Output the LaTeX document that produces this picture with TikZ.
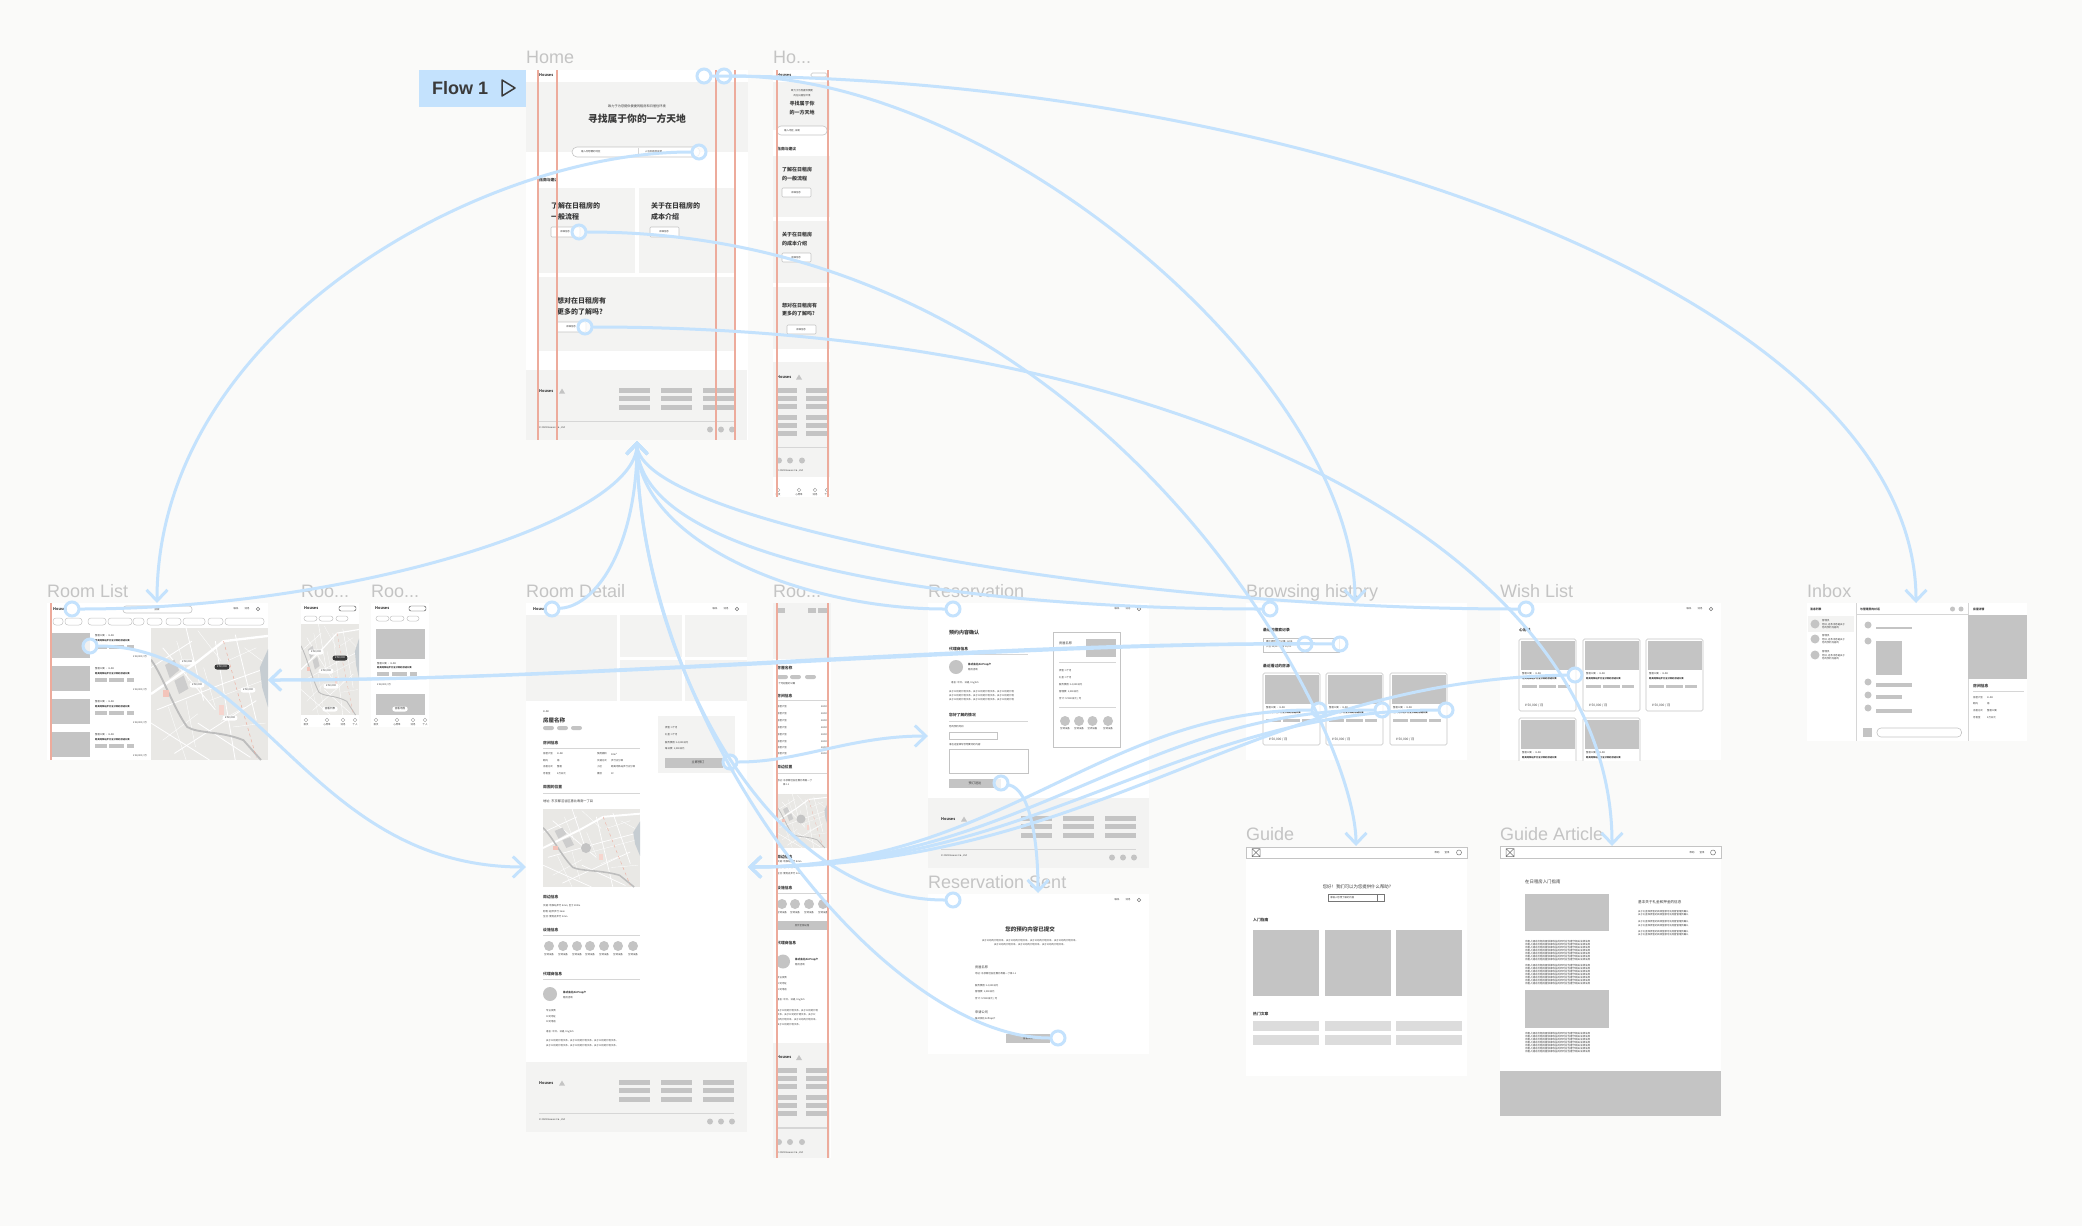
\documentclass[tikz,border=0pt]{standalone}
\usepackage{fontspec}
\setmainfont{Noto Sans CJK SC}
\newfontfamily\titlefont{Liberation Sans}
\usetikzlibrary{arrows.meta}

\definecolor{canvas}{HTML}{FAFAF9}
\definecolor{panel}{HTML}{F3F3F2}
\definecolor{holder}{HTML}{C4C4C4}
\definecolor{flowblue}{HTML}{C4E2FD}
\definecolor{guide}{HTML}{EDAB9C}
\definecolor{mapbg}{HTML}{E9E8E5}
\definecolor{lake}{HTML}{C6CDD2}
\definecolor{river}{HTML}{BDBDBD}
\definecolor{inktext}{HTML}{3A3A3A}

\tikzset{
	frame/.style={fill=white},
	panelbox/.style={fill=panel},
	ph/.style={fill=holder},
	rule/.style={draw=holder!70,line width=.5pt},
	redline/.style={draw=guide,line width=1.2pt},
	outlinebox/.style={draw=holder,line width=.6pt,fill=white},
	handle/.style={circle,draw=flowblue,fill=white,fill opacity=.75,draw opacity=1,line width=3pt,minimum size=14pt,inner sep=0pt},
	flow/.style={draw=flowblue,line width=3pt,line cap=round,-{Straight Barb[length=11pt,width=21pt,line width=3pt]}},
	lbl/.style={anchor=west,inner sep=0pt,text=inktext},
	ctr/.style={anchor=center,inner sep=0pt,text=inktext},
	title/.style={anchor=west,inner sep=0pt,text=holder,text height=13pt,text depth=0pt,font=\titlefont\fontsize{18}{20}\selectfont},
	f2/.style={font=\fontsize{2.4}{3}\selectfont},
	f3/.style={font=\fontsize{3.2}{4}\selectfont},
	f4/.style={font=\bfseries\fontsize{3.8}{5}\selectfont},
	f5/.style={font=\bfseries\fontsize{5}{6}\selectfont},
	f7/.style={font=\bfseries\fontsize{7}{9}\selectfont},
	pricetag/.style={ctr,fill=white,rounded corners=2.5pt,minimum height=5pt,inner xsep=2.5pt,font=\fontsize{2.6}{3}\selectfont},
}

\newcounter{txn}
\newcommand{\tx}[3][f3]{\stepcounter{txn}\node[lbl,#1] (tx\arabic{txn}) at (#2) {#3};}
\newcommand{\tc}[3][f3]{\stepcounter{txn}\node[ctr,#1] (tx\arabic{txn}) at (#2) {#3};}

% small triangle next to the logo word
\newcommand{\logotri}[2]{\fill[holder] (#1-3,#2+2.5) -- (#1,#2-2.5) -- (#1+3,#2+2.5) -- cycle;}

% nav items at the right of a desktop frame
\newcommand{\navright}[2]{%
	\tc[f2]{#1-32,#2}{联系}
	\tc[f2]{#1-21,#2}{消息}
	\draw[holder!60!black,line width=.5pt] (#1-10,#2) circle (1.8);
}

% wide footer
\newcommand{\deskfoot}[2]{%
	\fill[panelbox] (#1,#2) rectangle ++(221,70);
	\tx[f4]{#1+13,#2+21}{Houses}
	\logotri{#1+36}{#2+21}
	\foreach \bx in {93,135,177}
	\foreach \by in {20,28,37}
	\fill[ph] (#1+\bx,#2+\by-2.5) rectangle ++(31,5);
	\draw[rule] (#1+13,#2+51) -- ++(195,0);
	\tx[f2]{#1+13,#2+58}{© 2023 Houses Co., Ltd}
	\foreach \cx in {184,195,206}
	\fill[holder] (#1+\cx,#2+59.5) circle (3);
}

% narrow footer
\newcommand{\mobfoot}[1]{%
	\fill[panelbox] (773,#1) rectangle (830,#1+115);
	\tx[f4]{777,#1+15}{Houses}
	\logotri{799}{#1+15}
	\foreach \bx/\bw in {777/20,806/22}
	\foreach \by in {28,36,44,55,63,71}
	\fill[ph] (\bx,#1+\by-2.5) rectangle ++(\bw,5);
	\draw[rule] (777,#1+85) -- (828,#1+85);
	\foreach \cx in {779,790,802}
	\fill[holder] (\cx,#1+98.5) circle (3);
	\tx[f2]{777,#1+109}{© 2023 Houses Co., Ltd}
}

% street map block
\newcommand{\mapblock}[4]{%
	\begin{scope}
	\clip (#1,#2) rectangle ++(#3,#4);
	\fill[mapbg] (#1,#2) rectangle ++(#3,#4);
	\begin{scope}[shift={(#1,#2)},x=#3pt,y=-#4pt]
	\foreach \ax/\ay/\bx/\by in {0/.72/.5/1, .1/.15/.55/.62, .3/0/.45/.55, .55/.1/.72/1, .72/.05/.9/.7, 0/.3/.35/.1, .2/.95/.9/.55, .05/.62/.62/.42, .62/.42/1/.3, .4/.72/.85/.98}
	\draw[white,line width={#3*0.007}] (\ax,\ay) -- (\bx,\by);
	\foreach \ax/\ay/\bx/\by in {.15/.6/.3/1, .22/.1/.32/.4, .45/.3/.55/.6, .5/.55/.95/.4, .6/.7/.8/.6, .1/.85/.4/.65, .8/.15/.95/.25, .4/.02/.6/.25, .65/.25/.9/.15, .3/.55/.38/.9, .7/.75/.98/.72}
	\draw[white,line width={#3*0.003}] (\ax,\ay) -- (\bx,\by);
	\draw[white,line width={#3*0.02}] (0,.5) -- (.39,.26) -- (.62,.1) -- (1,.06);
	\draw[river,line width={#3*0.016}] (0,.24) .. controls (.1,.36) and (.2,.62) .. (.31,.75) .. controls (.4,.8) and (.6,.78) .. (.79,.85) -- (.94,1);
	\fill[lake] (1,.16) -- (.93,.3) -- (.95,.45) -- (1,.6) -- cycle;
	\draw[guide,dashed,line width={#3*0.004}] (.62,.1) -- (.76,.55) -- (.9,.98);
	\fill[holder!85] (.12,.28) -- (.2,.24) -- (.24,.32) -- (.16,.38) -- cycle;
	\fill[holder!85] (.2,.4) -- (.28,.36) -- (.32,.46) -- (.24,.5) -- cycle;
	\fill[guide!70] (.1,.47) rectangle (.15,.52);
	\fill[guide!50] (.58,.58) rectangle (.62,.66);
	\end{scope}
	\end{scope}
}

% listing card, used by the history and wish list frames
\newcommand{\roomcard}[2]{%
	\draw[outlinebox,rounded corners=1.5pt] (#1,#2) rectangle ++(57,72);
	\fill[ph] (#1+1.5,#2+2) rectangle ++(54,29);
	\tx[f2]{#1+3,#2+35}{整租公寓 · 1LDK}
	\tx[font=\bfseries\fontsize{2.3}{3}\selectfont]{#1+3,#2+40}{距离地铁站步行五分钟的舒适公寓}
	\foreach \px/\pw in {3/15,20/17,39/12}
	\fill[holder] (#1+\px,#2+45.5) rectangle ++(\pw,3.5);
	\tx[f3]{#1+6,#2+67}{¥ 50,000 / 月}
}

% row of the room list
\newcommand{\listrow}[1]{%
	\fill[ph] (52,#1) rectangle (90,#1+25);
	\tx[f2]{95,#1+3}{整租公寓 · 1LDK}
	\tx[font=\bfseries\fontsize{2.3}{3}\selectfont]{95,#1+7.5}{距离地铁站步行五分钟的舒适公寓}
	\foreach \px/\pw in {95/12,109/15,127/7}
	\fill[holder] (\px,#1+12) rectangle ++(\pw,3.5);
	\tx[f2]{133,#1+24}{¥ 50,000 / 月}
}

% bottom tabs of a narrow frame
\newcommand{\tabbar}[2]{%
	\foreach \cx/\ct in {3/首页,24/心愿单,40/消息,52/个人}{
		\draw[holder!80!black,line width=.4pt] (#1+\cx,#2+5) circle (1.8);
		\tc[f2]{#1+\cx,#2+10}{\ct}
	}
}

\begin{document}
\begin{tikzpicture}[x=1pt,y=-1pt]
	\fill[canvas] (0,0) rectangle (2082,1226);
	\useasboundingbox (0,0) rectangle (2082,1226);

	% Flow start
	\fill[flowblue] (419,70) rectangle (527,107);
	\node[lbl,text=inktext,font=\bfseries\titlefont\fontsize{18}{20}\selectfont] (flowname) at (432,88) {Flow 1};
	\draw[inktext,line width=1.5pt,line join=round] (502,80) -- (515,88) -- (502,96) -- cycle;

	% Home
	\node[title] (homeT) at (526,57) {Home};
	\fill[frame] (526,70) rectangle (748,440);
	\fill[panelbox] (526,82) rectangle (748,152);
	\tx[f4]{539,75}{Houses}
	\tc[f3]{637,106}{致力于为您提供便捷的租房和日居住环境}
	\tc[f7,font=\bfseries\fontsize{9.8}{12}\selectfont]{637,119}{寻找属于你的一方天地}
	\draw[outlinebox,rounded corners=5pt] (572,147) rectangle (700,157);
	\draw[rule] (638,148) -- (638,156);
	\tx[f2]{581,152}{输入你想要的地区}
	\tx[f2]{645,152}{入住和退房日期}
	\tx[f4]{539,180}{指南与建议}
	\fill[panelbox] (539,188) rectangle (635,273);
	\fill[panelbox] (639,188) rectangle (734,273);
	\fill[panelbox] (539,277) rectangle (734,351);
	\tx[f7]{551,206}{了解在日租房的}
	\tx[f7]{551,217}{一般流程}
	\tx[f7]{651,206}{关于在日租房的}
	\tx[f7]{651,217}{成本介绍}
	\tx[f7]{557,301}{想对在日租房有}
	\tx[f7]{557,312}{更多的了解吗?}
	\foreach \bx/\by in {551/227,650/227,557/322}{
		\draw[outlinebox,rounded corners=1pt] (\bx,\by) rectangle ++(29,10);
		\tc[f2]{\bx+14,\by+5}{详细信息}
	}
	\deskfoot{526}{370}
	\foreach \gx in {538,557,716,735}
	\draw[redline] (\gx,70) -- (\gx,440);

	% Home, narrow
	\node[title] (homeM) at (773,57) {Ho...};
	\fill[frame] (773,70) rectangle (830,497);
	\fill[panelbox] (773,82) rectangle (830,130);
	\tx[f4]{777,75}{Houses}
	\draw[outlinebox,rounded corners=1.5pt] (811,73) rectangle ++(16,4);
	\tc[f2]{802,91}{致力于为您提供便捷}
	\tc[f2]{802,96}{的在日居住环境}
	\tc[f5]{802,104}{寻找属于你}
	\tc[f5]{802,113}{的一方天地}
	\draw[outlinebox,rounded corners=4pt] (777,126) rectangle (827,135);
	\tx[f2]{784,130.5}{输入地区, 日期}
	\tx[f4]{777,149}{指南与建议}
	\fill[panelbox] (773,156) rectangle (830,217);
	\fill[panelbox] (773,221) rectangle (830,283);
	\fill[panelbox] (773,287) rectangle (830,349);
	\tx[f5]{782,170}{了解在日租房}
	\tx[f5]{782,179}{的一般流程}
	\tx[f5]{782,235}{关于在日租房}
	\tx[f5]{782,244}{的成本介绍}
	\tx[f5]{782,306}{想对在日租房有}
	\tx[f5]{782,314}{更多的了解吗?}
	\foreach \bx/\by in {782/188,782/253,787/325}{
		\draw[outlinebox,rounded corners=1pt] (\bx,\by) rectangle ++(29,9);
		\tc[f2]{\bx+14,\by+4.5}{详细信息}
	}
	\mobfoot{362}
	\tabbar{775}{485}
	\foreach \gx in {777,828}
	\draw[redline] (\gx,70) -- (\gx,497);

	% Room List
	\node[title] (listT) at (47,591) {Room List};
	\fill[frame] (47,603) rectangle (268,760);
	\tx[f4]{53,609}{Houses}
	\draw[outlinebox,rounded corners=3pt] (123,606) rectangle (192,613);
	\tc[f2]{157,609.5}{搜索}
	\navright{268}{609}
	\foreach \ax/\bx in {53/63,65/82,88/106,108/132,133/144,147/162,166/181,183/205,208/223,225/264}
	\draw[holder,line width=.5pt,rounded corners=3pt] (\ax,618) rectangle (\bx,625);
	\foreach \ry in {633,666,699,732}{\listrow{\ry}}
	\mapblock{151}{628}{117}{132}
	\node[pricetag] (pa) at (187,662) {¥ 50,000};
	\node[pricetag,fill=inktext,text=white] (pb) at (222,667) {¥ 50,000};
	\node[pricetag] (pc) at (197,685) {¥ 50,000};
	\node[pricetag] (pd) at (248,690) {¥ 50,000};
	\node[pricetag] (pe) at (230,718) {¥ 50,000};
	\draw[redline] (51,603) -- (51,760);

	% Room List, narrow map
	\node[title] (listM) at (301,591) {Roo...};
	\fill[frame] (301,603) rectangle (359,727);
	\tx[f4]{304,608}{Houses}
	\draw[inktext,line width=.4pt,rounded corners=2pt] (339,606) rectangle ++(17,5);
	\foreach \ax/\bx in {304/317,319/333,336/348}
	\draw[holder,line width=.5pt,rounded corners=2.5pt] (\ax,616) rectangle (\bx,621);
	\mapblock{301}{624}{58}{91}
	\node[pricetag] (pf) at (316,652) {¥ 50,000};
	\node[pricetag,fill=inktext,text=white] (pg) at (340,658) {¥ 50,000};
	\node[pricetag] (ph) at (326,671) {¥ 50,000};
	\node[pricetag] (pi) at (331,686) {¥ 50,000};
	\node[pricetag] (pj) at (330,709) {查看列表};
	\tabbar{303}{715}

	% Room List, narrow cards
	\node[title] (listN) at (371,591) {Roo...};
	\fill[frame] (371,603) rectangle (429,727);
	\tx[f4]{375,608}{Houses}
	\draw[inktext,line width=.4pt,rounded corners=2pt] (409,606) rectangle ++(17,5);
	\foreach \ax/\bx in {376/389,390/404,407/419}
	\draw[holder,line width=.5pt,rounded corners=2.5pt] (\ax,616) rectangle (\bx,621);
	\fill[ph] (376,629) rectangle (425,659);
	\tx[f2]{377,664}{整租公寓 · 1LDK}
	\tx[font=\bfseries\fontsize{2.3}{3}\selectfont]{377,668}{距离地铁站步行五分钟的舒适公寓}
	\foreach \px/\pw in {377/12,392/15,410/7}
	\fill[holder] (\px,672) rectangle ++(\pw,3.5);
	\tx[f2]{377,685}{¥ 50,000 / 月}
	\fill[ph] (376,694) rectangle (425,715);
	\node[pricetag] (pk) at (400,709) {查看地图};
	\tabbar{373}{715}

	% Room Detail
	\node[title] (detailT) at (526,591) {Room Detail};
	\fill[frame] (526,603) rectangle (747,1132);
	\tx[f4]{533,609}{Houses}
	\navright{747}{609}
	\fill[panelbox] (526,615) rectangle (617,701);
	\foreach \gx/\gw in {620/62,685/62}{
		\fill[panelbox] (\gx,615) rectangle ++(\gw,42);
		\fill[panelbox] (\gx,660) rectangle ++(\gw,41);
	}
	\tx[f2]{543,712}{1LDK}
	\tx[font=\bfseries\fontsize{5.5}{7}\selectfont]{543,720}{房屋名称}
	\foreach \px in {543,557,571}
	\fill[holder,rounded corners=2pt] (\px,726) rectangle ++(11,4);
	\tx[f4]{543,743}{房间信息}
	\draw[rule] (543,748) -- (640,748);
	\foreach \ry/\ra/\rb/\rc/\rd in {754/房屋户型/1LDK/使用面积/30m²,761/朝向/南/交通方式/步行五分钟,767/出租方式/整租/小区/距离地铁站步行五分钟,774/月租金/5万日元/楼层/3F}{
		\tx[f2]{543,\ry}{\ra}
		\tx[f2]{557,\ry}{\rb}
		\tx[f2]{597,\ry}{\rc}
		\tx[f2]{611,\ry}{\rd}
	}
	\tx[f4]{543,787}{周围的位置}
	\draw[rule] (543,793) -- (640,793);
	\tx[f3]{543,801}{地址: 东京都涩谷区惠比寿南一丁目}
	\mapblock{543}{809}{97}{78}
	\fill[holder] (586,848) circle (5);
	\tx[f4]{543,897}{周边信息}
	\tx[f2]{543,906}{交通: 地铁站步行 5min; 巴士 200m}
	\tx[f2]{543,911.5}{购物: 超市步行 3min}
	\tx[f2]{543,917}{生活: 便利店步行 2min}
	\tx[f4]{543,930}{设施信息}
	\draw[rule] (543,935) -- (640,935);
	\foreach \cx in {549,563,577,590,604,618,633}{
		\fill[holder] (\cx,946) circle (5);
		\tc[f2]{\cx,955}{空调设备}
	}
	\tx[f4]{543,974}{代理商信息}
	\draw[rule] (543,979) -- (640,979);
	\fill[holder] (550,994) circle (7);
	\tx[font=\bfseries\fontsize{2.6}{3}\selectfont]{563,992.5}{株式会社AirProp户}
	\tx[f2]{563,998}{租房咨询}
	\foreach \ry/\rt in {1010.5/{专业资质},1017/{公司地址},1022/{公司电话},1032/{语言: 中文、日语, English},1041/{关于公司的介绍文本。关于公司的介绍文本。关于公司的介绍文本。},1045.5/{关于公司的介绍文本。关于公司的介绍文本。关于公司的介绍文本。}}{
		\tx[f2]{546,\ry}{\rt}
	}
	\fill[panelbox] (658,716) rectangle (735,773);
	\foreach \ry/\rt in {728/{押金: 1个月},735/{礼金: 1个月},743/{服务费用: 14,000日元},749/{每日费: 1,000日元}}{
		\tx[f2]{665,\ry}{\rt}
	}
	\fill[ph] (665,757.5) rectangle (723,767.5);
	\tc[f3]{698,762.5}{立即预订}
	\deskfoot{526}{1062}

	% Room Detail, narrow
	\node[title] (detailM) at (773,591) {Roo...};
	\fill[frame] (773,603) rectangle (831,1158);
	\fill[panelbox] (773,603) rectangle (831,659);
	\foreach \ax/\bx in {777/785,808/816,818/827}{
		\fill[holder] (\ax,607.5) rectangle (\bx,612.5);
	}
	\tx[f4]{777,668}{房屋名称}
	\foreach \px in {777,790,805}
	\fill[holder,rounded corners=2pt] (\px,675) rectangle ++(11,4);
	\tx[f2]{777,684}{1个月起租的公寓}
	\tx[f4]{777,696}{房间信息}
	\draw[rule] (777,700) -- (828,700);
	\foreach \ry in {707,714,721,728,735,742,748,754}{
		\tx[f2]{777,\ry}{房屋户型}
		\tx[anchor=east,f2]{827,\ry}{1LDK}
	}
	\tx[f4]{777,767.5}{周边位置}
	\draw[rule] (777,773) -- (828,773);
	\tx[f2]{777,781}{地址: 东京都涩谷区惠比寿南一丁}
	\tx[f2]{783,785}{目2-1}
	\mapblock{777}{794}{51}{54}
	\fill[holder] (801,819) circle (4.5);
	\tx[f4]{777,857}{周边信息}
	\foreach \ry/\rt in {862/{交通: 地铁站步行 5min},868/{购物: 超市步行 3min},873.5/{生活: 便利店步行 2min}}{
		\tx[f2]{777,\ry}{\rt}
	}
	\tx[f4]{777,888}{设施信息}
	\draw[rule] (777,893) -- (828,893);
	\foreach \cx in {782,795,809,823}{
		\fill[holder] (\cx,904) circle (5);
		\tc[f2]{\cx,913}{空调设备}
	}
	\fill[ph] (777,921) rectangle (828,930);
	\tc[f2]{802,925.5}{显示全部设施}
	\tx[f4]{777,943.5}{代理商信息}
	\fill[holder] (783,961.5) circle (7);
	\tx[font=\bfseries\fontsize{2.6}{3}\selectfont]{795,959.5}{株式会社AirProp户}
	\tx[f2]{795,965}{租房咨询}
	\foreach \ry/\rt in {978/{专业资质},984/{公司地址},990/{公司电话},999.5/{语言: 中文、日语, English},1010.5/{关于公司的介绍文本。关于公司的介绍},1015/{文本。关于公司的介绍文本。关于公},1020/{司的介绍文本。关于公司的介绍文本。},1024.5/{关于公司的介绍文本。}}{
		\tx[f2]{777,\ry}{\rt}
	}
	\mobfoot{1042.5}
	\fill[panelbox] (773,1129) rectangle (830,1158);
	\draw[rule] (777,1128) -- (828,1128);
	\foreach \cx in {779,790,802}
	\fill[holder] (\cx,1142) circle (3);
	\tx[f2]{777,1153}{© 2023 Houses Co., Ltd}
	\foreach \gx in {777,828}
	\draw[redline] (\gx,603) -- (\gx,1158);

	% Reservation
	\node[title] (resT) at (928,591) {Reservation};
	\fill[frame] (928,603) rectangle (1149,868);
	\navright{1149}{609}
	\tx[font=\bfseries\fontsize{5}{6}\selectfont]{949,633}{预约内容确认}
	\tx[f4]{949,649}{代理商信息}
	\draw[rule] (949,654) -- (1028,654);
	\fill[holder] (956,667) circle (7);
	\tx[font=\bfseries\fontsize{2.6}{3}\selectfont]{968,665}{株式会社AirProp户}
	\tx[f2]{968,670}{租房咨询}
	\tx[f2]{951,683}{语言: 中文、日语, English}
	\foreach \ry in {692,696,700}{
		\tx[f2]{949,\ry}{关于公司的介绍文本。关于公司的介绍文本。关于公司的介绍}
	}
	\tx[f4]{949,715}{您好了解的情况}
	\draw[rule] (949,721) -- (1028,721);
	\tx[f2]{949,727}{您的预约时间}
	\draw[outlinebox] (949,732) rectangle (997,739);
	\tx[f2]{949,745}{请在这里填写您想要问的内容}
	\draw[outlinebox] (949,749) rectangle (1028,773);
	\fill[ph] (949,779) rectangle (1001,788);
	\tc[f3]{975,783.5}{预订送达}
	\draw[holder,line width=.7pt,fill=white] (1053,632) rectangle (1120,747);
	\tx[f3]{1059,643}{房屋名称}
	\fill[ph] (1086,639) rectangle (1116,657);
	\draw[rule] (1059,662) -- (1116,662);
	\foreach \ry/\rt in {671/{押金: 1个月},678/{礼金: 1个月},685/{服务费用: 14,000日元},692/{管理费: 1,000日元},699/{合计: 57000日元 / 月}}{
		\tx[f2]{1059,\ry}{\rt}
	}
	\draw[rule] (1059,707) -- (1116,707);
	\foreach \cx in {1065,1079,1092.5,1108}{
		\fill[holder] (\cx,721) circle (5);
		\tc[f2]{\cx,729}{空调设备}
	}
	\deskfoot{928}{798}

	% Reservation Sent
	\node[title] (sentT) at (928,882) {Reservation Sent};
	\fill[frame] (928,894) rectangle (1149,1054);
	\navright{1149}{900}
	\tc[font=\bfseries\fontsize{5.5}{7}\selectfont]{1030,929}{您的预约内容已提交}
	\tc[f2]{1030,941}{关于公司的介绍文本。关于公司的介绍文本。关于公司的介绍文本。关于公司的介绍文本。}
	\tc[f2]{1030,945}{关于公司的介绍文本。关于公司的介绍文本。关于公司的介绍文本。}
	\tx[f3]{975,967}{房屋名称}
	\foreach \ry/\rt in {974/{地址: 东京都涩谷区惠比寿南一丁目2-1},986/{服务费用: 14,000日元},992/{管理费: 1,000日元},999/{合计: 57000日元 / 月},1019/{株式会社AirProp户}}{
		\tx[f2]{975,\ry}{\rt}
	}
	\tx[f3]{975,1012}{申请公司}
	\fill[ph] (1006,1034) rectangle (1050,1043);
	\tc[f2]{1028,1038.5}{查看详情}

	% Browsing history
	\node[title] (browseT) at (1246,591) {Browsing history};
	\fill[frame] (1246,603) rectangle (1467,760);
	\tx[f4]{1263,630}{最近的搜索记录}
	\draw[outlinebox] (1263,638) rectangle (1339,652);
	\tx[f2]{1266,642}{惠比寿附近的公寓, 1LDK}
	\tx[f2]{1266,647}{入住 10/01 - 退房 11/01}
	\tx[f4]{1263,666}{最近看过的房源}
	\foreach \cx in {1263,1326,1390}{\roomcard{\cx}{673}}

	% Guide
	\node[title] (guideT) at (1246,834) {Guide};
	\fill[frame] (1246,847) rectangle (1467,1076);
	\draw[outlinebox] (1246,847) rectangle (1467,858);
	\draw[inktext!70,line width=.5pt] (1252,848.5) rectangle (1260,856.5) (1252,848.5) -- (1260,856.5) (1252,856.5) -- (1260,848.5);
	\tc[f2]{1437,852.5}{帮助}
	\tc[f2]{1447,852.5}{登录}
	\draw[holder!60!black,line width=.5pt] (1459,852.5) circle (2.5);
	\tc[font=\fontsize{4.4}{6}\selectfont]{1358,887}{您好！我们可以为您提供什么帮助？}
	\draw[outlinebox,draw=holder!60!black] (1328,894) rectangle (1384,901);
	\draw[holder!60!black,line width=.5pt] (1377,894) -- (1377,901);
	\tx[f2]{1330,897.5}{请输入您想了解的内容}
	\tx[f4]{1253,920}{入门指南}
	\tx[f4]{1253,1014}{热门文章}
	\foreach \cx in {1253,1325,1396}{
		\fill[ph] (\cx,930) rectangle ++(66,66);
		\fill[holder!60] (\cx,1021) rectangle ++(66,10);
		\fill[holder!60] (\cx,1035) rectangle ++(66,10);
	}

	% Wish List
	\node[title] (wishT) at (1500,591) {Wish List};
	\fill[frame] (1500,603) rectangle (1721,760);
	\navright{1721}{609}
	\tx[f4]{1519,630}{心愿单}
	\begin{scope}
		\clip (1500,603) rectangle (1721,760);
		\foreach \cx/\cy in {1519/639,1583/639,1646/639,1519/718,1583/718}{\roomcard{\cx}{\cy}}
	\end{scope}

	% Guide Article
	\node[title] (articleT) at (1500,834) {Guide Article};
	\fill[frame] (1500,846) rectangle (1721,1116);
	\draw[outlinebox] (1500,846) rectangle (1721,858);
	\draw[inktext!70,line width=.5pt] (1506,848.5) rectangle (1514,856.5) (1506,848.5) -- (1514,856.5) (1506,856.5) -- (1514,848.5);
	\tc[f2]{1692,852.5}{帮助}
	\tc[f2]{1702,852.5}{登录}
	\draw[holder!60!black,line width=.5pt] (1713,852.5) circle (2.5);
	\tx[font=\fontsize{4.4}{6}\selectfont]{1525,881.5}{在日租房入门指南}
	\fill[ph] (1525,893.5) rectangle (1609,931);
	\fill[ph] (1525,990) rectangle (1609,1027.5);
	\foreach \ry in {941.5,944.5,947.5,950.5,953.5,956.5,959.5,966,969,972,975,978,981,984,1034,1037,1040,1043,1046,1049,1052}{
		\tx[font=\fontsize{2.5}{3}\selectfont]{1525,\ry}{出租人通过出租房屋获得收益的同时应当遵守相关法律法规}
	}
	\tx[font=\fontsize{3.6}{5}\selectfont]{1638,902}{基本关于礼金和押金的信息}
	\foreach \ry in {911.5,915,922,925.5,931.5,935}{
		\tx[f2]{1638,\ry}{关于礼金和押金的具体金额可向房屋管理员确认}
	}
	\fill[ph] (1500,1071) rectangle (1721,1116);

	% Inbox
	\node[title] (inboxT) at (1807,591) {Inbox};
	\fill[frame] (1807,603) rectangle (2027,741);
	\draw[rule] (1856,603) -- (1856,741);
	\draw[rule] (1968,603) -- (1968,741);
	\draw[rule] (1856,614.5) -- (1968,614.5);
	\tx[f3,font=\bfseries\fontsize{2.8}{4}\selectfont]{1810,609}{消息列表}
	\tx[font=\bfseries\fontsize{2.8}{4}\selectfont]{1860,609}{与管理员的对话}
	\tx[font=\bfseries\fontsize{2.8}{4}\selectfont]{1973,609}{房屋详情}
	\fill[panelbox] (1808,616) rectangle (1854,632);
	\foreach \cy in {624,639,655}{
		\fill[holder] (1815,\cy) circle (4.5);
		\tx[f2]{1822,\cy-3.5}{管理员}
		\tx[f2]{1822,\cy+1}{您好, 这条消息是关于}
		\tx[f2]{1822,\cy+4}{您的预约内容的}
	}
	\fill[holder] (1952.5,609) circle (2.5);
	\fill[holder] (1961,609) circle (2.5);
	\foreach \cy in {625,641,682,695,708}
	\fill[holder] (1868,\cy) circle (3.5);
	\fill[holder] (1875.5,627) rectangle (1912,629);
	\fill[ph] (1875.5,641) rectangle (1902,675);
	\fill[ph] (1875.5,683) rectangle (1912,687);
	\fill[ph] (1875.5,695) rectangle (1902,699);
	\fill[ph] (1875.5,709) rectangle (1912,713);
	\fill[ph] (1863,728) rectangle (1872,737);
	\draw[holder,line width=.6pt,rounded corners=4pt] (1877,728) rectangle (1961.5,737);
	\fill[ph] (1968,615) rectangle (2027,679);
	\tx[f4]{1973,686}{房间信息}
	\draw[rule] (1973,691) -- (2024,691);
	\foreach \ry/\ra/\rb in {697.5/房屋户型/1LDK,704/朝向/南,711/出租方式/整租公寓,717.5/月租金/5万日元}{
		\tx[f2]{1973,\ry}{\ra}
		\tx[f2]{1987,\ry}{\rb}
	}

	% hotspots
	\node[handle] (hHomeA) at (704,76) {};
	\node[handle] (hHomeB) at (724,76) {};
	\node[handle] (hSearch) at (699,152) {};
	\node[handle] (hCardA) at (579,232) {};
	\node[handle] (hCardB) at (585,327) {};
	\node[handle] (hListTop) at (72,609) {};
	\node[handle] (hListItem) at (90,646) {};
	\node[handle] (hDetailTop) at (552,609) {};
	\node[handle] (hBook) at (730,762) {};
	\node[handle] (hResTop) at (953,609) {};
	\node[handle] (hResBtn) at (1001,783) {};
	\node[handle] (hSentTop) at (953,900) {};
	\node[handle] (hSentBtn) at (1058,1038) {};
	\node[handle] (hBrowseTop) at (1270,609) {};
	\node[handle] (hBrowseA) at (1305,644) {};
	\node[handle] (hBrowseB) at (1340,644) {};
	\node[handle] (hCard1) at (1319,710) {};
	\node[handle] (hCard2) at (1382,710) {};
	\node[handle] (hCard3) at (1446,710) {};
	\node[handle] (hWishTop) at (1526,609) {};
	\node[handle] (hWishCard) at (1575,675) {};

	% arrow targets
	\coordinate (tHome) at (637,441);
	\coordinate (tList) at (157,603);
	\coordinate (tBrowse) at (1355,603);
	\coordinate (tInbox) at (1916,603);
	\coordinate (tGuide) at (1356,846);
	\coordinate (tArticle) at (1612,846);
	\coordinate (tDetailL) at (526,867);
	\coordinate (tDetailR) at (748,867);
	\coordinate (tMap) at (268,680);
	\coordinate (tRes) at (928,736);
	\coordinate (tSent) at (1038,893);

	\draw[flow] (hSearch) .. controls (480,152) and (157,330) .. (tList);
	\draw[flow] (hHomeA) .. controls (1300,76) and (1916,300) .. (tInbox);
	\draw[flow] (hHomeB) .. controls (1000,76) and (1355,380) .. (tBrowse);
	\draw[flow] (hCardA) .. controls (1100,232) and (1356,720) .. (tGuide);
	\draw[flow] (hCardB) .. controls (1200,327) and (1612,560) .. (tArticle);
	\draw[flow] (hListTop) .. controls (350,609) and (637,520) .. (tHome);
	\draw[flow] (hDetailTop) .. controls (600,605) and (637,540) .. (tHome);
	\draw[flow] (hResTop) .. controls (800,609) and (637,540) .. (tHome);
	\draw[flow] (hSentTop) .. controls (760,900) and (637,640) .. (tHome);
	\draw[flow] (hSentBtn) .. controls (880,1038) and (637,720) .. (tHome);
	\draw[flow] (hBrowseTop) .. controls (950,609) and (637,560) .. (tHome);
	\draw[flow] (hWishTop) .. controls (1100,609) and (637,520) .. (tHome);
	\draw[flow] (hListItem) .. controls (260,646) and (310,867) .. (tDetailL);
	\draw[flow] (hCard1) .. controls (1100,710) and (1000,867) .. (tDetailR);
	\draw[flow] (hCard2) .. controls (1140,710) and (1020,867) .. (tDetailR);
	\draw[flow] (hCard3) .. controls (1180,710) and (1040,867) .. (tDetailR);
	\draw[flow] (hWishCard) .. controls (1250,680) and (1100,867) .. (tDetailR);
	\draw[flow] (hBrowseA) .. controls (1000,644) and (600,680) .. (tMap);
	\draw[flow] (hBrowseB) .. controls (1000,640) and (600,680) .. (tMap);
	\draw[flow] (hBook) .. controls (800,762) and (850,736) .. (tRes);
	\draw[flow] (hResBtn) .. controls (1030,790) and (1038,840) .. (tSent);
\end{tikzpicture}
\end{document}
